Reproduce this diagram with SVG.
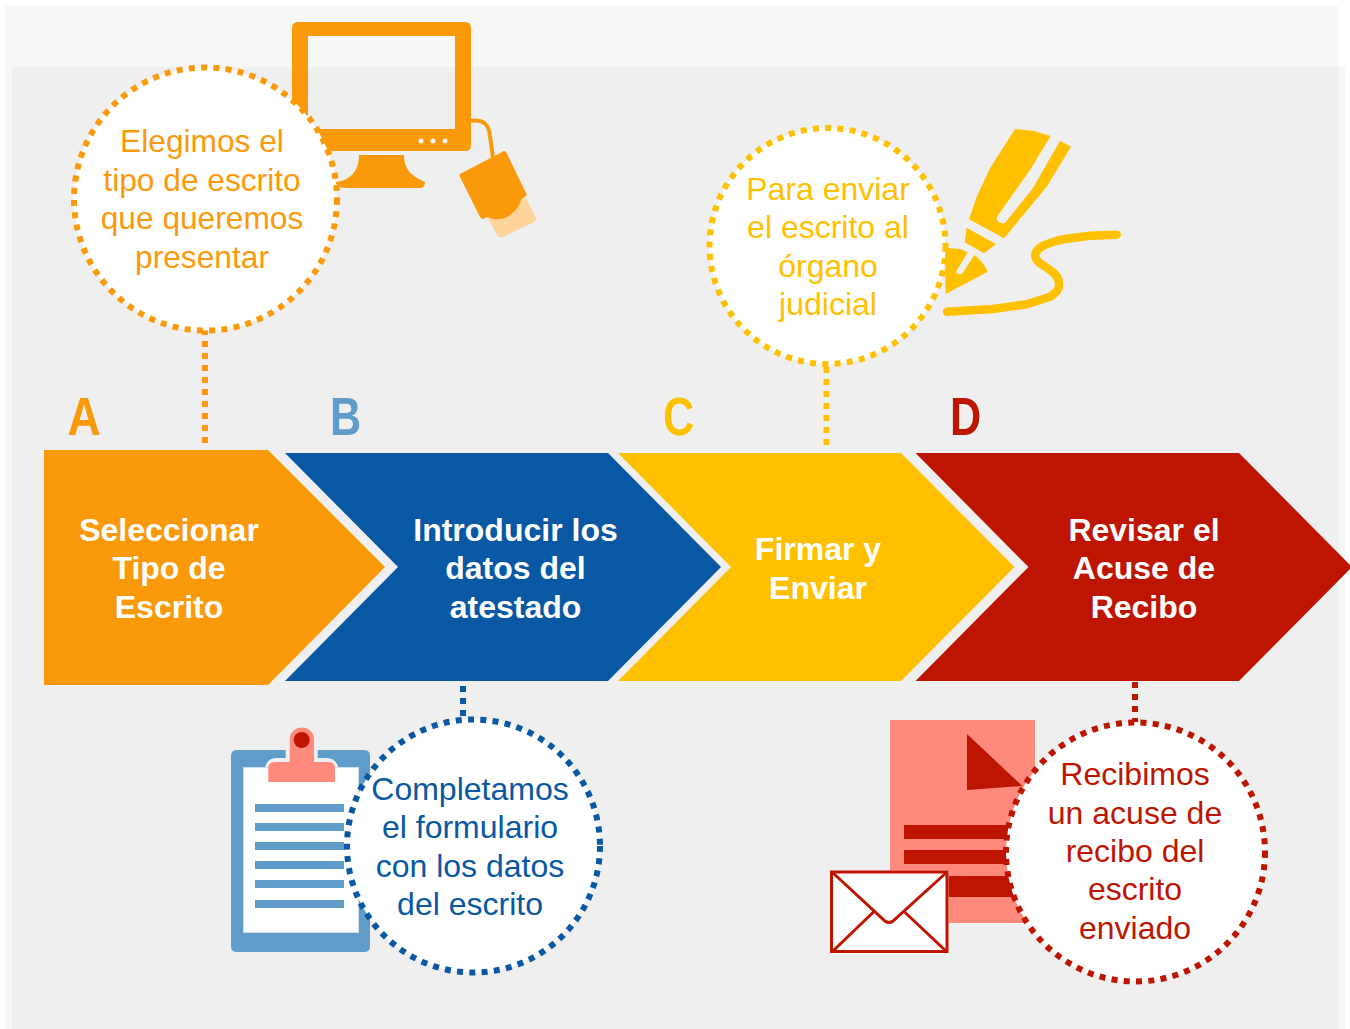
<svg xmlns="http://www.w3.org/2000/svg" width="1350" height="1029" viewBox="0 0 1350 1029">
<style>
.t{font-family:"Liberation Sans",Arial,sans-serif;font-size:32px;text-anchor:middle}
.b{font-weight:bold;fill:#fff}
.l{font-family:"Liberation Sans",Arial,sans-serif;font-size:54px;font-weight:bold}
.dot{fill:#fff;stroke-width:6;stroke-dasharray:6 6.3}
.conn{fill:none;stroke-width:6;stroke-dasharray:6 6}
.o{fill:#FA9A0B}.bl{fill:#0858A3}.y{fill:#FFC000}.r{fill:#BE1500}.lb{fill:#5F9CC9}.p{fill:#FF8A7C}
</style>
<rect width="1350" height="1029" fill="#fff"/>
<rect x="5" y="6" width="1333" height="1023" fill="#f7f7f7"/>
<rect x="12" y="67" width="1333" height="962" fill="#f7f7f7"/>
<rect x="12" y="67" width="1326" height="962" fill="#efefef"/>

<g id="connectors">
<path class="conn" d="M205 329V443" stroke="#FA9A0B"/>
<path class="conn" d="M826.500 355V451" stroke="#FFC000"/>
<path class="conn" d="M463 686V720" stroke="#0858A3"/>
<path class="conn" d="M1135 682V722" stroke="#BE1500"/>
</g>

<g id="icon-monitor">
<path class="o" fill-rule="evenodd" d="M298 22H465Q471 22 471 28V145Q471 151 465 151H298Q292 151 292 145V28Q292 22 298 22ZM308 36V129H455V36Z"/>
<path class="o" d="M359 155H404C404 171 414 177 425 182C425 186 423 188 420 188H345C340 188 337 185 335 182C350 181 359 171 359 155Z"/>
<g fill="#f4f4f4"><circle cx="421" cy="141" r="2.500"/><circle cx="433" cy="141" r="2.500"/><circle cx="445" cy="141" r="2.500"/></g>
<path d="M470 121C483 119 489 124 490 136L493 158" fill="none" stroke="#FA9A0B" stroke-width="4"/>
<path fill="#FDD49B" d="M487 217L526 198L536 218Q537 221 534 222L503 237Q500 238 498 236Z"/>
<path class="o" d="M460 174L502 152Q504 150 506 152L527 195L521 200C517 214 502 224 487 217L483 219Q481 219 480 217L460 177Q459 175 460 174Z"/>
</g>

<g id="icon-pen">
<path class="y" d="M1015 129L1033 130.700L1050.700 136L1030 170L998.300 215Q995 219 998 221.500L1002 223.300Q1004 224 1006 221.700L1033 188L1060 140.700L1071 146.700L1046.700 186.700L1004 238.300L969 219.300L976.700 196.700L990 168.300Z"/>
<path class="y" d="M966.700 227.700L996 244.300L984 253.300L964.700 242.300Z"/>
<path class="y" d="M945 247.700L960 249L967.700 252.300L957 270Q955 273 958 274L960.500 274Q962 274 963 272.500L974.300 255Q983 261 987.700 271.700L945.700 294Z"/>
<path d="M947 311.700L993 309L1026.700 304.300L1050 296.700Q1060 291 1059 284Q1059 276 1050 270L1040 263.300Q1030 255 1041 247Q1050 242 1063 239.300L1090 235.700L1116.700 234.700" fill="none" stroke="#FFC000" stroke-width="8.500" stroke-linecap="round" stroke-linejoin="round"/>
</g>

<g id="icon-clipboard">
<path class="lb" d="M237 750H364Q370 750 370 756V946Q370 952 364 952H237Q231 952 231 946V756Q231 750 237 750Z"/>
<path fill="#efefef" d="M265 768Q267 758 276 758H285.700V750H317.700V758H327Q336 758 338.500 768Z"/>
<rect x="243.500" y="767.500" width="115" height="165" fill="#fff" stroke="#cfe0ee"/>
<path class="p" d="M268.300 782V768Q268.300 762 275 762H289.700V738.500A12.200 12.200 0 0 1 314 738.500V762H328Q335 762 335 768V782Z"/>
<circle class="r" cx="301.700" cy="740" r="8"/>
<g class="lb"><rect x="255" y="804" width="89" height="8"/><rect x="255" y="823" width="89" height="8"/><rect x="255" y="842" width="89" height="8"/><rect x="255" y="861" width="89" height="8"/><rect x="255" y="880" width="89" height="8"/><rect x="255" y="900" width="89" height="8"/></g>
</g>

<g id="icon-document">
<rect class="p" x="890" y="720" width="145" height="203"/>
<path class="r" d="M967 734L1022.300 786L967 790Z"/>
<g class="r"><rect x="904" y="825" width="110" height="14"/><rect x="904" y="850" width="110" height="14"/><rect x="904" y="876" width="115" height="21"/></g>
<rect x="830" y="870.500" width="118.500" height="83" fill="#fff"/>
<rect x="831.500" y="872" width="115.500" height="79.500" fill="#fff" stroke="#BE1500" stroke-width="3"/>
<path d="M832 872L885 921Q889 924 893 921L947 872M833 951L874 911.500M946 951L904 911.500" fill="none" stroke="#BE1500" stroke-width="3"/>
</g>

<g id="step-a"><path class="o" d="M44 450H268L385 567L268 685H44Z"/>
<text class="t b"><tspan x="169" y="541">Seleccionar</tspan><tspan x="169" y="579">Tipo de</tspan><tspan x="169" y="618">Escrito</tspan></text>
<text class="l o" transform="translate(67.500 435) scale(.85 1)">A</text></g>

<g id="step-b"><path class="bl" d="M285 453H608L721 567L608 681H285L398 567Z"/>
<text class="t b"><tspan x="515.500" y="541">Introducir los</tspan><tspan x="515.500" y="579">datos del</tspan><tspan x="515.500" y="618">atestado</tspan></text>
<text class="l lb" transform="translate(330 435) scale(.8 1)">B</text></g>

<g id="step-c"><path class="y" d="M618 453H901L1014.500 567L901 681H618L731 567Z"/>
<text class="t b"><tspan x="818" y="560">Firmar y</tspan><tspan x="818" y="599">Enviar</tspan></text>
<text class="l y" transform="translate(663 435) scale(.8 1)">C</text></g>

<g id="step-d"><path class="r" d="M915.500 453H1239L1352 567L1239 681H915.500L1028.500 567Z"/>
<text class="t b"><tspan x="1144" y="541">Revisar el</tspan><tspan x="1144" y="579">Acuse de</tspan><tspan x="1144" y="618">Recibo</tspan></text>
<text class="l r" transform="translate(950 435) scale(.8 1)">D</text></g>

<g id="note-a"><circle class="dot" cx="205.500" cy="199" r="131.500" stroke="#FA9A0B"/>
<text class="t o" style="font-size:31.700px"><tspan x="202" y="152">Elegimos el</tspan><tspan x="202" y="191">tipo de escrito</tspan><tspan x="202" y="229">que queremos</tspan><tspan x="202" y="268">presentar</tspan></text></g>

<g id="note-b"><circle class="dot" cx="473.500" cy="846" r="126.500" stroke="#0858A3"/>
<text class="t bl"><tspan x="470" y="800">Completamos</tspan><tspan x="470" y="838">el formulario</tspan><tspan x="470" y="877">con los datos</tspan><tspan x="470" y="915">del escrito</tspan></text></g>

<g id="note-c"><circle class="dot" cx="827.500" cy="246" r="118" stroke="#FFC000"/>
<text class="t y"><tspan x="828" y="200">Para enviar</tspan><tspan x="828" y="238">el escrito al</tspan><tspan x="828" y="277">órgano</tspan><tspan x="828" y="315">judicial</tspan></text></g>

<g id="note-d"><circle class="dot" cx="1135.500" cy="852" r="129.500" stroke="#BE1500"/>
<text class="t r"><tspan x="1135" y="785">Recibimos</tspan><tspan x="1135" y="824">un acuse de</tspan><tspan x="1135" y="862">recibo del</tspan><tspan x="1135" y="900">escrito</tspan><tspan x="1135" y="939">enviado</tspan></text></g>
</svg>
